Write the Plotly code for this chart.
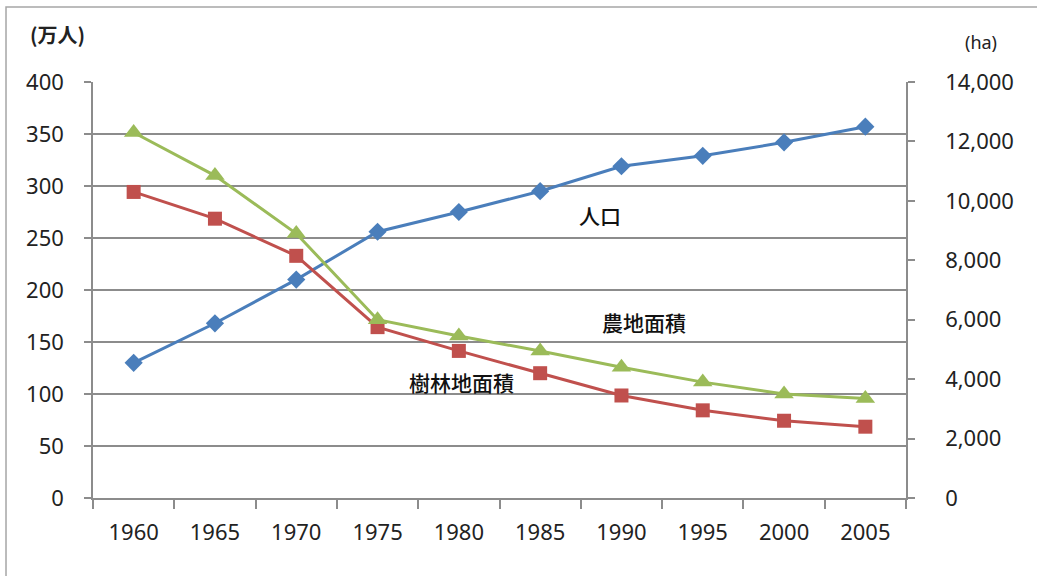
import plotly.graph_objects as go

# Census years (category axis)
years = ["1960", "1965", "1970", "1975", "1980", "1985", "1990", "1995", "2000", "2005"]

# Population, 10k persons (left axis)
population = [130, 168, 210, 256, 275, 295, 319, 329, 342, 357]

# Farmland area, ha (right axis)
farmland_ha = [12300, 10850, 8900, 6000, 5450, 4950, 4400, 3900, 3500, 3350]

# Woodland area, ha (right axis)
woodland_ha = [10300, 9400, 8150, 5750, 4950, 4200, 3450, 2950, 2600, 2400]

left_ticks = list(range(0, 401, 50))
right_ticks = list(range(0, 14001, 2000))

BLUE = "#4A7EBB"
RED = "#C0504D"
GREEN = "#9BBB59"
GRID = "#8C8C8C"
TEXT = "#222222"

tick_font = dict(family="Noto Sans, Open Sans, sans-serif", size=22, color=TEXT)
jp_font = "Noto Sans CJK JP"

fig = go.Figure()

fig.add_trace(go.Scatter(
    x=years, y=population, name="人口", mode="lines+markers",
    line=dict(color=BLUE, width=3),
    marker=dict(symbol="diamond", size=14, color=BLUE),
    yaxis="y",
))
fig.add_trace(go.Scatter(
    x=years, y=woodland_ha, name="樹林地面積", mode="lines+markers",
    line=dict(color=RED, width=3),
    marker=dict(symbol="square", size=14, color=RED),
    yaxis="y2",
))
fig.add_trace(go.Scatter(
    x=years, y=farmland_ha, name="農地面積", mode="lines+markers",
    line=dict(color=GREEN, width=3),
    marker=dict(symbol="triangle-up", size=17, color=GREEN),
    yaxis="y2",
))

label_font = dict(family=jp_font, size=21, color="#111111", weight=500)

fig.update_layout(
    width=1037, height=576,
    margin=dict(l=93, r=131, t=82, b=78),
    paper_bgcolor="white", plot_bgcolor="white",
    showlegend=False,
    xaxis=dict(
        type="category", tickson="boundaries", range=[-0.5, len(years) - 0.5],
        ticks="outside", ticklen=9, tickcolor=GRID, tickwidth=1.5,
        showline=True, linecolor=GRID, linewidth=1.5,
        showgrid=False, tickfont=tick_font, ticklabelstandoff=14,
    ),
    yaxis=dict(
        range=[0, 400], tickvals=left_ticks,
        ticks="outside", ticklen=7, tickcolor=GRID, tickwidth=1.5,
        showline=True, linecolor=GRID, linewidth=1.5,
        showgrid=True, gridcolor=GRID, gridwidth=1.5,
        zeroline=False, tickfont=tick_font, ticklabelstandoff=16,
    ),
    yaxis2=dict(
        range=[0, 14000], tickvals=right_ticks, tickformat=",",
        overlaying="y", side="right",
        ticks="outside", ticklen=7, tickcolor=GRID, tickwidth=1.5,
        showline=True, linecolor=GRID, linewidth=1.5,
        showgrid=False, zeroline=False, tickfont=tick_font,
        ticklabelstandoff=26,
    ),
    shapes=[dict(
        type="rect", xref="paper", yref="paper",
        x0=-0.107, x1=1.17, y0=-0.2, y1=1.18,
        line=dict(color="#A6A6A6", width=1.5), layer="below",
    )],
    annotations=[
        dict(text="<b>(万人)</b>", xref="paper", yref="paper", x=-0.08, y=1.115,
             xanchor="left", yanchor="middle", showarrow=False,
             font=dict(family=jp_font, size=20, color=TEXT)),
        dict(text="(ha)", xref="paper", yref="paper", x=1.092, y=1.095,
             xanchor="center", yanchor="middle", showarrow=False,
             font=dict(family="Noto Sans, sans-serif", size=18, color=TEXT)),
        dict(text="人口", xref="paper", yref="paper", x=0.624, y=0.68,
             xanchor="center", yanchor="middle", showarrow=False, font=label_font),
        dict(text="農地面積", xref="paper", yref="paper", x=0.678, y=0.423,
             xanchor="center", yanchor="middle", showarrow=False, font=label_font),
        dict(text="樹林地面積", xref="paper", yref="paper", x=0.453, y=0.279,
             xanchor="center", yanchor="middle", showarrow=False, font=label_font),
    ],
)

fig.write_html("out.html")
